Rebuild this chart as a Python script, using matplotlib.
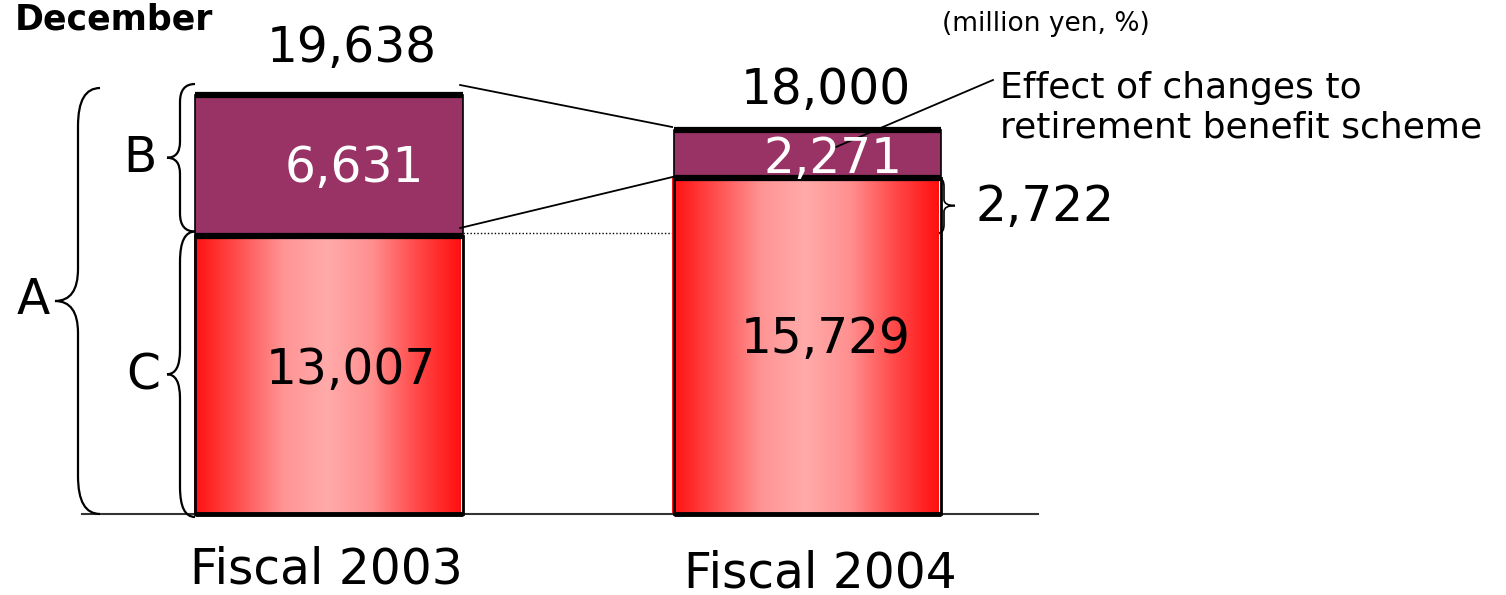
import matplotlib
matplotlib.use("Agg")
import matplotlib.pyplot as plt
from matplotlib.colors import LinearSegmentedColormap
from matplotlib.patches import PathPatch
from matplotlib.path import Path
import numpy as np

categories = ["Fiscal 2003", "Fiscal 2004"]
base_values = [13007, 15729]      # C
scheme_values = [6631, 2271]      # B
totals = [19638, 18000]           # A
diff_value = 2722

# pixel <-> data helpers (figure is drawn 1:1 at 100 dpi)
X_PX = 478.5          # pixels per category step
X_ORG = 329           # pixel x of first bar centre
Y_PX = 0.02134        # pixels per million yen
Y_ORG = 514           # pixel y of baseline


def px(xp):
    return (xp - X_ORG) / X_PX


def py(yp):
    return (Y_ORG - yp) / Y_PX


def brace(ax, xv, ylo, yhi, tip_px, curl_px, r_px, rt_px=None, direction=-1, lw=1.6):
    d = direction
    cx = curl_px / X_PX * (-d)
    tx = tip_px / X_PX * d
    r = r_px / Y_PX
    rt = (rt_px if rt_px is not None else r_px) / Y_PX
    ym = (ylo + yhi) / 2
    verts = [(xv + cx, yhi), (xv, yhi), (xv, yhi - r),
             (xv, ym + rt), (xv, ym), (xv + tx, ym),
             (xv, ym), (xv, ym - rt),
             (xv, ylo + r), (xv, ylo), (xv + cx, ylo)]
    codes = [Path.MOVETO, Path.CURVE3, Path.CURVE3, Path.LINETO, Path.CURVE3, Path.CURVE3,
             Path.CURVE3, Path.CURVE3, Path.LINETO, Path.CURVE3, Path.CURVE3]
    ax.add_patch(PathPatch(Path(verts, codes), fill=False, lw=lw, color="black", zorder=6))


fig = plt.figure(figsize=(15.06, 5.95), dpi=100)
ax = fig.add_axes([0, 0, 1, 1])
ax.set_axis_off()

x = np.arange(len(categories))
width = 0.558
purple = "#993366"
cmap = LinearSegmentedColormap.from_list(
    "redgrad", ["#ff1010", "#ff5050", "#ff9494", "#ffaaaa", "#ff9090", "#ff4a4a", "#ff1010"])
grad = np.linspace(0, 1, 256).reshape(1, -1)

for i in range(len(categories)):
    x0, x1 = x[i] - width / 2, x[i] + width / 2
    ax.imshow(grad, cmap=cmap, extent=[x0 - 0.004, x1 - 0.006, 60, base_values[i]],
              aspect="auto", zorder=2)
    ax.bar(x[i], base_values[i], width, color="none", edgecolor="black", lw=2, zorder=3)
    ax.bar(x[i], scheme_values[i], width, bottom=base_values[i], color=purple,
           edgecolor="black", lw=1.2, zorder=3)
    ax.hlines([totals[i], base_values[i]], x0, x1, colors="black", lw=4.5, zorder=4)
    ax.hlines(0, x0, x1, colors="black", lw=3.5, zorder=4)

# baseline
ax.plot([px(82), px(1038)], [0, 0], color="#333333", lw=1.5, zorder=1)

# connector lines between the bars
ax.plot([x[0] + width / 2 - 0.005, x[1] - width / 2 - 0.004], [py(85), py(127)],
        color="black", lw=1.3, zorder=5)
ax.plot([x[0] + width / 2 - 0.005, x[1] - width / 2], [py(228), base_values[1] + 80],
        color="black", lw=1.3, zorder=5)
ax.plot([x[0] + width / 2, x[1] + width / 2], [base_values[0] + 170] * 2,
        color="black", lw=1, ls=(0, (1, 1.5)), zorder=1)

# callout to the scheme note
ax.plot([px(993), px(836)], [py(80), py(147)], color="black", lw=1.3, zorder=5)

# braces
brace(ax, px(78), 0, py(88), tip_px=23, curl_px=22, r_px=38, rt_px=32)
brace(ax, px(180), base_values[0] + 230, py(84), tip_px=13, curl_px=15, r_px=18, rt_px=16)
brace(ax, px(180), -140, base_values[0] + 230, tip_px=13, curl_px=15, r_px=30, rt_px=24)
brace(ax, px(944), base_values[0] + 170, base_values[1], tip_px=11, curl_px=5, r_px=8, rt_px=6,
      direction=1, lw=1.2)

big = 35
ax.text(px(33), py(300), "A", fontsize=big, ha="center", va="center")
ax.text(px(140), py(158), "B", fontsize=big, ha="center", va="center")
ax.text(px(143), py(376), "C", fontsize=big, ha="center", va="center")

ax.text(px(352), py(48), f"{totals[0]:,}", fontsize=big, ha="center", va="center")
ax.text(px(826), py(90), f"{totals[1]:,}", fontsize=big, ha="center", va="center")
ax.text(px(354), py(168), f"{scheme_values[0]:,}", fontsize=big, ha="center", va="center",
        color="white", zorder=7)
ax.text(px(833), py(159), f"{scheme_values[1]:,}", fontsize=big, ha="center", va="center",
        color="white", zorder=7)
ax.text(px(351), py(370), f"{base_values[0]:,}", fontsize=big, ha="center", va="center", zorder=7)
ax.text(px(826), py(339), f"{base_values[1]:,}", fontsize=big, ha="center", va="center", zorder=7)
ax.text(px(1045), py(207), f"{diff_value:,}", fontsize=big, ha="center", va="center")

label_px = [(326, 570), (820, 573)]
for lab, (lx, ly) in zip(categories, label_px):
    ax.text(px(lx), py(ly), lab, fontsize=big, ha="center", va="center")

ax.text(px(1000), py(108), "Effect of changes to\nretirement benefit scheme", fontsize=26,
        ha="left", va="center", linespacing=1.2)
ax.text(px(15), py(19), "December", fontsize=25, fontweight="bold", ha="left", va="center")
ax.text(px(1150), py(24), "(million yen, %)", fontsize=19, ha="right", va="center")

ax.set_xlim(px(0), px(1506))
ax.set_ylim(py(595), py(0))

fig.savefig("out.png", dpi=100)
